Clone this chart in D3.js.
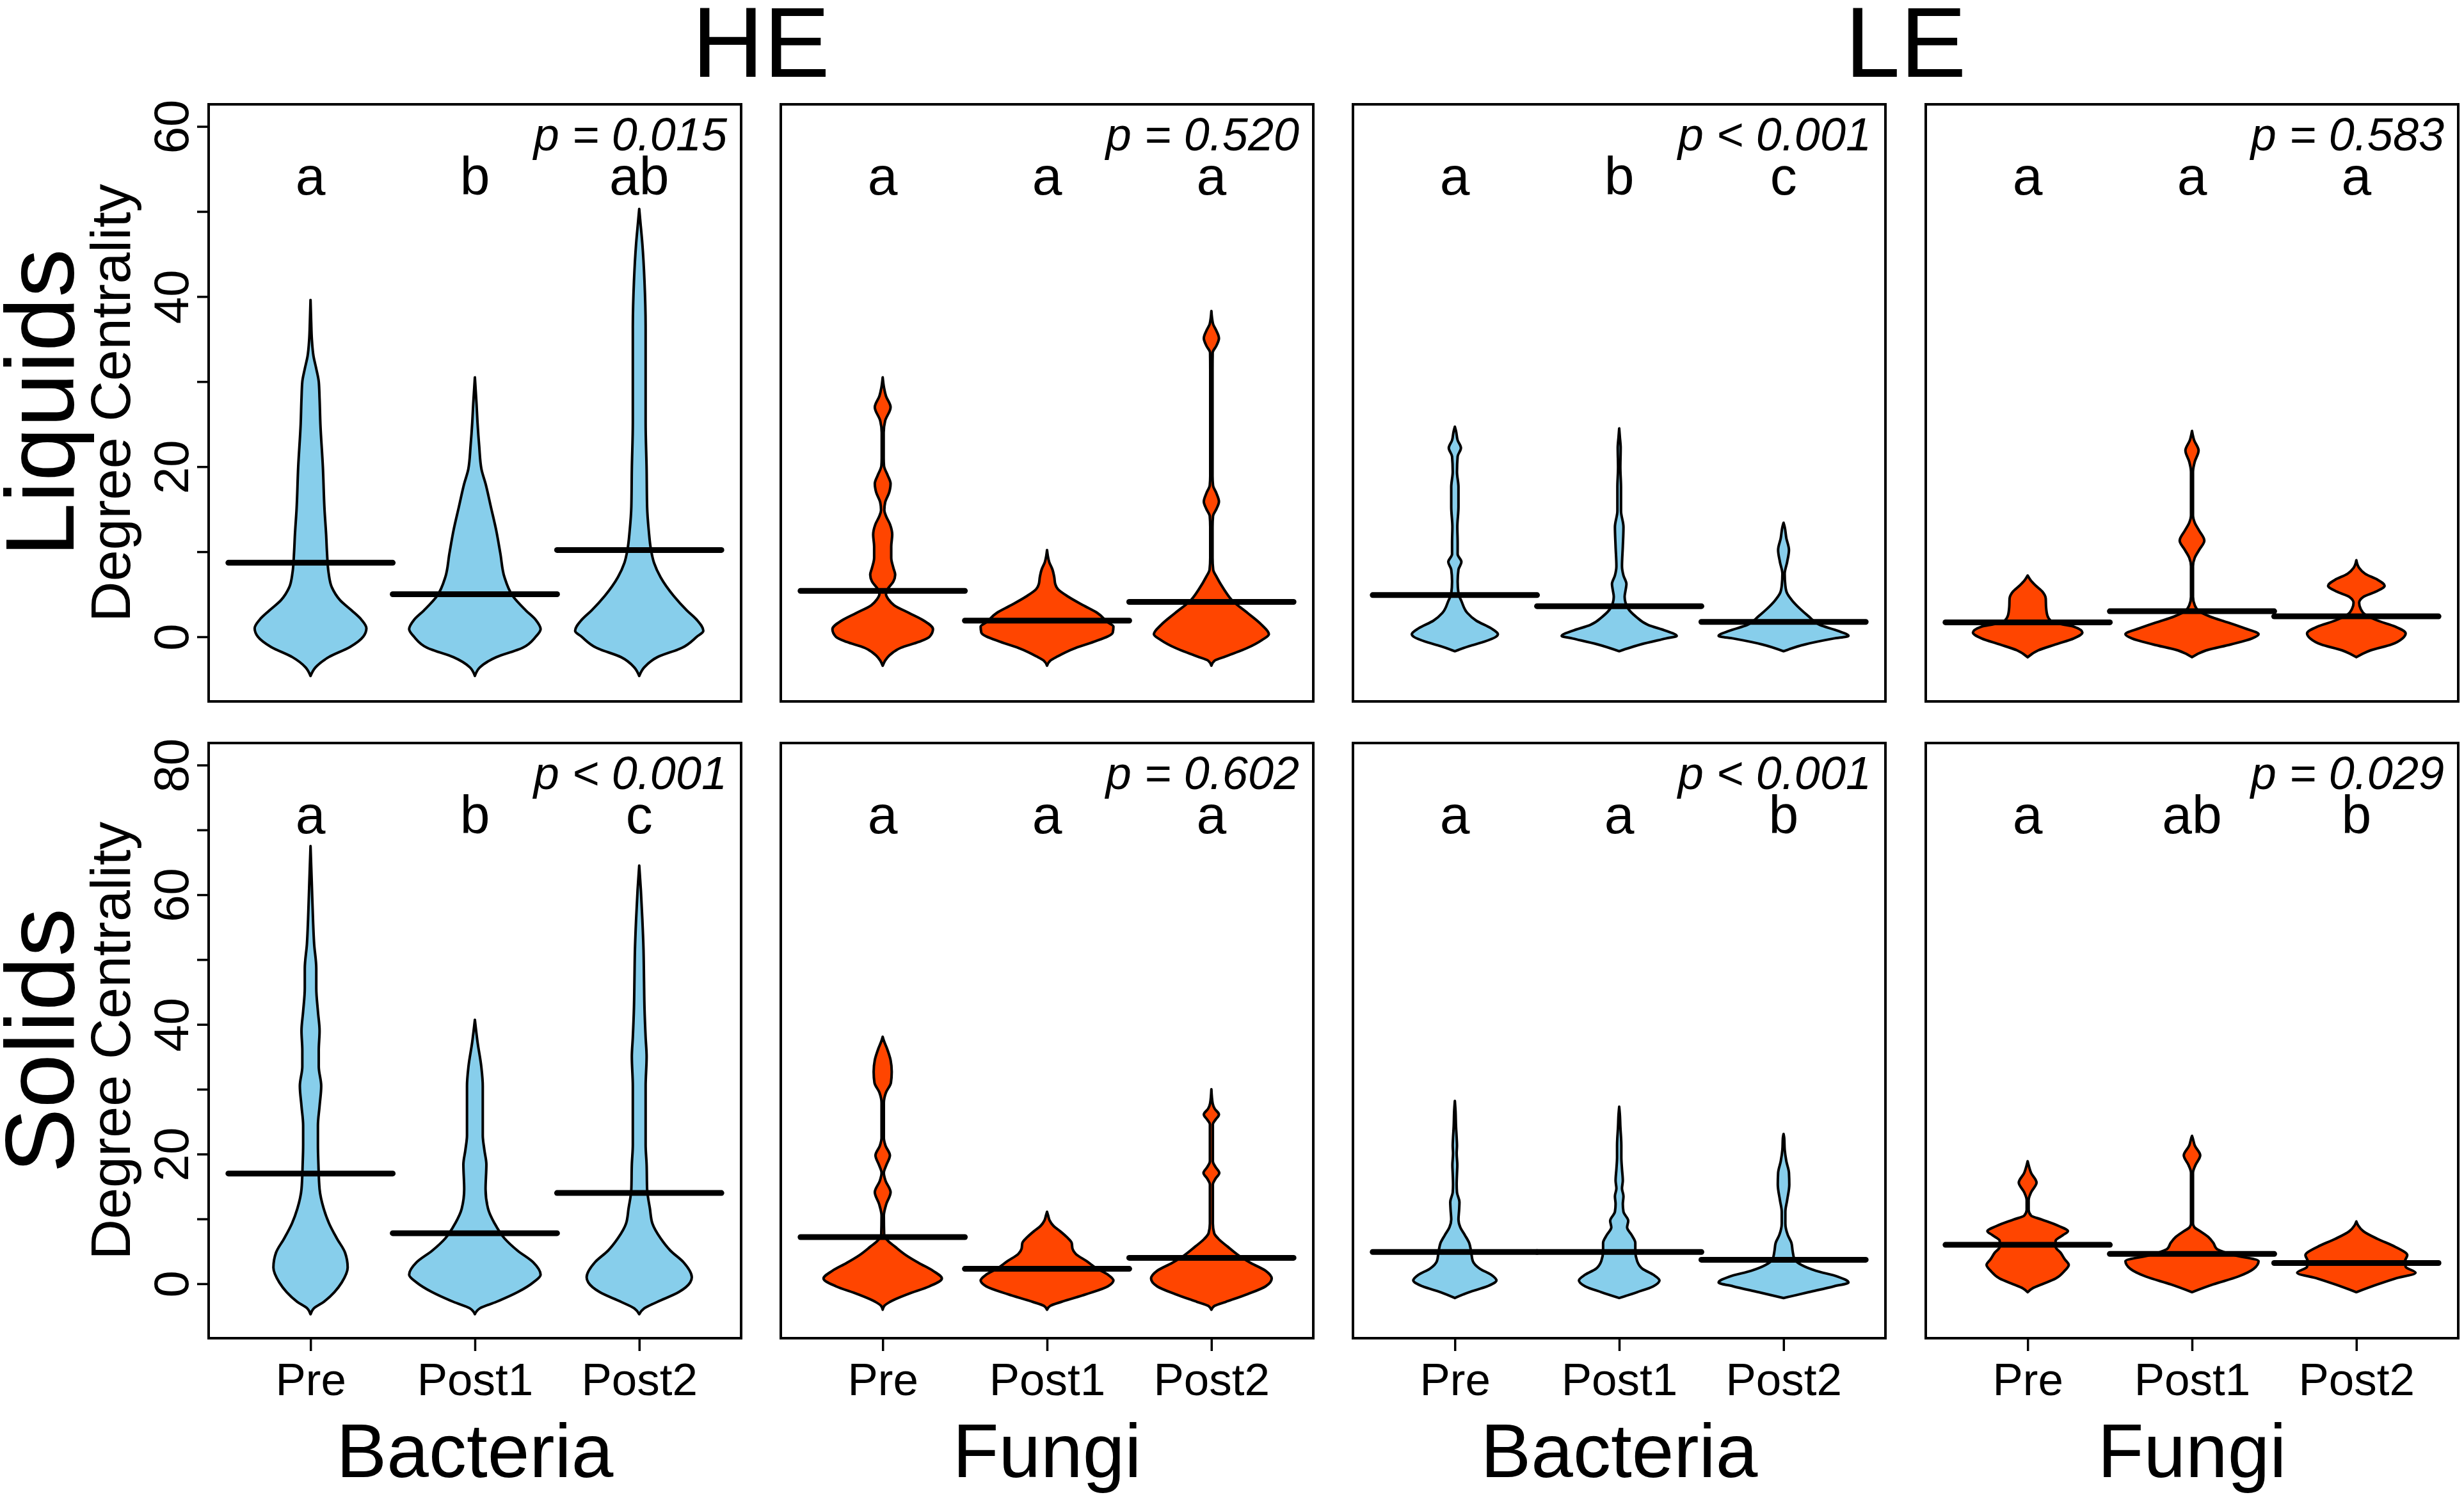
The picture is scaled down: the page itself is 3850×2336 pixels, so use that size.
<!DOCTYPE html>
<html>
<head>
<meta charset="utf-8">
<script src="https://cdn.jsdelivr.net/npm/d3@7"></script>
<style>
  html, body { margin: 0; padding: 0; background: #fff; }
  text { font-family: "Liberation Sans", Arial, sans-serif; fill: #000; }
</style>
</head>
<body>
<script>
/* -----------------    DATA     ------------------ */

const groups = ['Pre', 'Post1', 'Post2'];
const sites = ['HE', 'LE'];
const taxa = ['Bacteria', 'Fungi', 'Bacteria', 'Fungi'];
const fractions = ['Liquids', 'Solids'];

const yLimits = [[-5, 60], [-5, 80]];
// ticks every 10, labels only every 20 (the others would overlap)
const yTicks = [[0, 10, 20, 30, 40, 50, 60], [0, 10, 20, 30, 40, 50, 60, 70, 80]];
const yLabels = [[0, 20, 40, 60], [0, 20, 40, 60, 80]];

const pLiquids = ['p = 0.015', 'p = 0.520', 'p < 0.001', 'p = 0.583'];
const pSolids = ['p < 0.001', 'p = 0.602', 'p < 0.001', 'p = 0.029'];

const lettersLiquids = [['a', 'b', 'ab'], ['a', 'a', 'a'], ['a', 'b', 'c'], ['a', 'a', 'a']];
const lettersSolids = [['a', 'b', 'c'], ['a', 'a', 'a'], ['a', 'a', 'b'], ['a', 'ab', 'b']];

// horizontal bar per group (mean degree centrality)
const meanLiquids = [[8.7, 5.0, 10.2], [5.4, 1.9, 4.1], [4.9, 3.6, 1.75], [1.7, 3.0, 2.4]];
const meanSolids = [[17.0, 7.8, 14.0], [7.2, 2.3, 4.0], [4.9, 4.9, 3.7], [6.0, 4.6, 3.2]];

// violin outlines: [degree centrality, half width in group units]
const liquidsHEBacteria = [
    [[-4.6,0],[-3.6,0.03],[-2.4,0.11],[-1.2,0.24],[0,0.32],[1.0,0.34],[2.0,0.31],[3.1,0.25],[4.3,0.18],[5.8,0.13],[7.5,0.11],[10,0.1],[12,0.095],[15,0.085],[20,0.075],[25,0.06],[28,0.055],[30,0.05],[31.5,0.035],[33,0.018],[35,0.008],[37,0.004],[39.6,0]],
    [[-4.6,0],[-3.6,0.03],[-2.4,0.13],[-1.3,0.29],[0,0.37],[0.9,0.4],[2.0,0.37],[3.1,0.31],[4.8,0.23],[7.0,0.18],[9.8,0.155],[12.5,0.13],[15.3,0.097],[18,0.065],[19.7,0.04],[22.5,0.026],[25.2,0.016],[27.4,0.01],[30.5,0]],
    [[-4.6,0],[-3.6,0.03],[-2.4,0.11],[-1.3,0.26],[0,0.35],[0.7,0.39],[2.0,0.35],[3.1,0.29],[4.8,0.21],[7.0,0.13],[8.7,0.09],[10.3,0.071],[12.5,0.058],[15.3,0.048],[19.7,0.045],[25.2,0.039],[30.7,0.039],[36.3,0.039],[41.8,0.032],[46.2,0.019],[49,0.006],[50.3,0]]
];
const liquidsHEFungi = [
    [[-3.4,0],[-2.8,0.015],[-2.2,0.04],[-1.3,0.11],[-0.6,0.22],[0,0.285],[0.9,0.306],[1.9,0.25],[2.8,0.16],[3.7,0.07],[4.4,0.035],[5.0,0.02],[5.6,0.03],[6.5,0.065],[7.3,0.076],[8.1,0.065],[9.3,0.052],[10.6,0.052],[12.0,0.058],[13.2,0.045],[14.2,0.02],[14.9,0.01],[15.8,0.015],[17.0,0.04],[18.0,0.048],[19.0,0.03],[20.1,0.008],[21,0.006],[24,0.006],[25.4,0.015],[27.0,0.048],[28.3,0.02],[29.3,0.008],[30.5,0]],
    [[-3.4,0],[-2.8,0.02],[-2.3,0.065],[-1.3,0.175],[-0.6,0.284],[0.5,0.4],[1.2,0.404],[1.7,0.37],[2.8,0.306],[3.7,0.22],[4.7,0.13],[5.6,0.066],[6.2,0.05],[7.0,0.044],[7.9,0.033],[8.8,0.013],[9.5,0.005],[10.2,0]],
    [[-3.4,0],[-2.8,0.02],[-2.3,0.087],[-1.3,0.22],[-0.4,0.306],[0.3,0.35],[1.4,0.306],[2.8,0.22],[4.2,0.13],[5.6,0.076],[7.0,0.033],[7.9,0.011],[9.3,0.007],[12.9,0.007],[14.2,0.01],[15.0,0.03],[15.9,0.046],[16.9,0.03],[17.8,0.01],[18.9,0.007],[31.4,0.007],[33.4,0.008],[34.2,0.03],[35.1,0.046],[36.0,0.03],[36.8,0.01],[38.3,0]]
];
const liquidsLEBacteria = [
    [[-1.7,0],[-1.1,0.087],[-0.6,0.175],[0,0.25],[0.3,0.262],[1.0,0.22],[1.9,0.13],[2.8,0.076],[4.2,0.04],[5.1,0.022],[6.5,0.017],[7.9,0.022],[8.8,0.04],[9.7,0.017],[11.1,0.017],[12.9,0.015],[15.3,0.022],[17.6,0.022],[19.4,0.013],[21.2,0.017],[22.2,0.037],[23.1,0.017],[24.2,0.007],[24.7,0]],
    [[-1.7,0],[-0.9,0.13],[-0.2,0.284],[0.1,0.35],[0.7,0.284],[1.4,0.175],[2.4,0.1],[3.3,0.055],[4.7,0.033],[5.6,0.04],[6.2,0.044],[7.2,0.026],[8.3,0.017],[10.6,0.022],[12.9,0.026],[14.8,0.011],[17.6,0.011],[19.9,0.007],[22.2,0.009],[23.5,0.004],[24.5,0]],
    [[-1.7,0],[-0.9,0.13],[-0.2,0.306],[0.1,0.395],[0.7,0.33],[1.4,0.22],[2.4,0.153],[3.3,0.1],[4.2,0.055],[5.1,0.022],[6.0,0.011],[7.4,0.007],[8.8,0.022],[10.2,0.033],[11.6,0.017],[12.9,0.007],[13.4,0]]
];
const liquidsLEFungi = [
    [[-2.4,0],[-1.6,0.064],[-0.9,0.17],[-0.2,0.28],[0.5,0.333],[1.2,0.28],[1.5,0.2],[1.9,0.14],[2.5,0.12],[3.5,0.112],[4.5,0.11],[5.3,0.09],[6.0,0.05],[6.6,0.02],[7.2,0]],
    [[-2.4,0],[-1.6,0.086],[-0.9,0.236],[-0.2,0.365],[0.3,0.405],[1.0,0.32],[1.7,0.215],[2.4,0.107],[3.0,0.043],[3.7,0.017],[4.7,0.006],[8.3,0.006],[9.3,0.017],[10.2,0.043],[11.3,0.075],[12.5,0.043],[13.4,0.017],[14.3,0.006],[19.4,0.006],[20.6,0.017],[21.9,0.04],[23.1,0.013],[24.2,0]],
    [[-2.4,0],[-1.6,0.086],[-0.9,0.215],[-0.2,0.28],[0.4,0.3],[1.2,0.236],[1.9,0.13],[2.6,0.054],[3.3,0.026],[4.0,0.017],[4.7,0.043],[5.3,0.118],[6.0,0.172],[6.7,0.13],[7.4,0.054],[8.1,0.017],[9.0,0]]
];

const solidsHEBacteria = [
    [[-4.7,0],[-3.8,0.02],[-2.8,0.08],[-1.3,0.145],[0.2,0.19],[2.5,0.226],[4.8,0.21],[7.0,0.16],[9.3,0.113],[11.6,0.08],[14.6,0.055],[18.4,0.048],[21.4,0.045],[24.4,0.045],[27.4,0.055],[30.5,0.065],[33.5,0.05],[36,0.05],[39,0.055],[42,0.045],[45.6,0.035],[48.6,0.035],[52.4,0.022],[56.2,0.015],[61.5,0.008],[67.5,0]],
    [[-4.7,0],[-3.8,0.03],[-2.8,0.13],[-1.3,0.26],[0.2,0.355],[1.4,0.4],[3.3,0.355],[5.1,0.26],[7.0,0.18],[9.3,0.12],[11.6,0.08],[14.6,0.065],[18.4,0.07],[20.6,0.058],[22.9,0.048],[27.4,0.048],[30.5,0.048],[33.5,0.039],[37.3,0.016],[40.7,0]],
    [[-4.7,0],[-3.8,0.03],[-2.8,0.11],[-1.3,0.24],[0.2,0.31],[1.0,0.32],[3.3,0.27],[5.1,0.19],[7.0,0.13],[9.3,0.08],[11.6,0.065],[14.6,0.048],[18.4,0.045],[21.4,0.039],[25.9,0.039],[30.5,0.039],[35,0.045],[38,0.039],[42.6,0.032],[47.1,0.029],[51.6,0.026],[56.2,0.019],[60.7,0.01],[64.5,0]]
];
const solidsHEFungi = [
    [[-4.0,0],[-3.4,0.01],[-2.8,0.044],[-1.6,0.153],[-0.4,0.284],[0.8,0.36],[2.0,0.306],[3.2,0.22],[4.4,0.142],[5.7,0.076],[6.6,0.033],[7.5,0.009],[10.5,0.007],[12.3,0.022],[14.1,0.048],[15.9,0.017],[17.1,0.007],[18.3,0.022],[19.8,0.044],[21.3,0.017],[22.5,0.007],[27.9,0.007],[29.5,0.02],[31,0.05],[32.7,0.055],[34.5,0.048],[36.3,0.026],[37.5,0.007],[38.1,0]],
    [[-4.0,0],[-3.4,0.02],[-2.8,0.087],[-1.6,0.24],[-0.4,0.37],[0.5,0.404],[1.4,0.37],[2.3,0.306],[3.5,0.24],[4.6,0.175],[5.4,0.155],[6.3,0.15],[7.2,0.12],[8.1,0.08],[8.9,0.04],[9.8,0.015],[10.5,0.007],[11.1,0]],
    [[-4.0,0],[-3.4,0.02],[-2.8,0.087],[-1.6,0.22],[-0.4,0.33],[0.8,0.367],[2.0,0.33],[3.2,0.24],[4.4,0.164],[5.7,0.1],[6.9,0.044],[7.8,0.017],[9.3,0.009],[15.3,0.009],[16.2,0.025],[17.1,0.048],[18.0,0.025],[18.9,0.009],[24.6,0.009],[25.3,0.025],[26.1,0.046],[27.0,0.02],[27.8,0.008],[30.0,0]]
];
const solidsLEBacteria = [
    [[-2.2,0],[-1.3,0.087],[-0.4,0.197],[0.5,0.253],[1.4,0.22],[2.3,0.153],[3.5,0.109],[5.1,0.098],[6.3,0.087],[7.5,0.061],[8.7,0.033],[9.9,0.022],[11.4,0.026],[12.6,0.028],[14.1,0.013],[15.3,0.011],[17.0,0.013],[18.3,0.015],[20.1,0.011],[21.3,0.013],[22.5,0.011],[24.3,0.007],[26.7,0.004],[28.2,0]],
    [[-2.2,0],[-1.3,0.109],[-0.4,0.207],[0.5,0.245],[1.4,0.207],[2.3,0.142],[3.5,0.109],[5.1,0.098],[6.3,0.098],[7.5,0.076],[8.7,0.048],[9.7,0.055],[11.1,0.026],[12.3,0.022],[13.5,0.026],[14.7,0.017],[15.9,0.022],[17.7,0.017],[19.5,0.013],[21.3,0.013],[24.3,0.007],[26.1,0.004],[27.3,0]],
    [[-2.2,0],[-1.3,0.153],[-0.4,0.306],[0.2,0.395],[1.1,0.33],[2.0,0.197],[2.9,0.109],[3.8,0.066],[5.1,0.055],[6.3,0.048],[7.5,0.026],[9.3,0.011],[11.1,0.011],[12.9,0.022],[15.3,0.035],[17.1,0.033],[18.9,0.017],[20.7,0.007],[22.5,0.004],[23.1,0]]
];
const solidsLEFungi = [
    [[-1.3,0],[-0.7,0.03],[-0.1,0.086],[0.8,0.17],[2.0,0.225],[2.9,0.25],[3.8,0.225],[4.8,0.2],[5.7,0.17],[6.6,0.17],[7.5,0.215],[8.1,0.245],[8.9,0.19],[9.9,0.086],[10.5,0.021],[11.4,0.006],[12.9,0.006],[14.1,0.021],[15.6,0.054],[17.1,0.021],[18.3,0.006],[18.9,0]],
    [[-1.3,0],[-0.1,0.129],[1.1,0.28],[2.3,0.375],[3.5,0.405],[4.4,0.26],[5.4,0.15],[6.3,0.13],[7.2,0.1],[8.1,0.05],[8.7,0.015],[9.3,0.006],[17.1,0.006],[18.3,0.021],[19.8,0.05],[21.3,0.017],[22.5,0.004],[22.8,0]],
    [[-1.3,0],[-0.1,0.129],[0.8,0.236],[1.7,0.36],[2.6,0.3],[3.5,0.296],[4.4,0.31],[5.7,0.236],[6.9,0.13],[8.1,0.043],[9.0,0.011],[9.6,0]]
];

/* -----------------    SETTINGS     ------------------ */

const settings = {
    width: 3850,
    height: 2336,
    panelLeft: [326, 1220, 2114, 3009],
    panelWidth: 832,
    rowTop: [163, 1161],
    rowHeight: [933, 930],
    colBacteria: '#87CEEB',
    colFungi: '#FF4500'
};

const profiles = [
    [liquidsHEBacteria, liquidsHEFungi, liquidsLEBacteria, liquidsLEFungi],
    [solidsHEBacteria, solidsHEFungi, solidsLEBacteria, solidsLEFungi]
];
const means = [meanLiquids, meanSolids];
const letters = [lettersLiquids, lettersSolids];
const pValues = [pLiquids, pSolids];
const fills = taxa.map(t => t === 'Bacteria' ? settings.colBacteria : settings.colFungi);

/* -----------------    DRAW     ------------------ */

const svg = d3.select('body')
    .append('svg')
    .attr('width', settings.width)
    .attr('height', settings.height);

svg.append('rect')
    .attr('width', settings.width)
    .attr('height', settings.height)
    .attr('fill', '#fff');

fractions.forEach((fraction, r) => {
    const top = settings.rowTop[r];
    const h = settings.rowHeight[r];
    const [lo, hi] = yLimits[r];
    const pad = (hi - lo) * 0.04;
    const y = d3.scaleLinear().domain([lo - pad, hi + pad]).range([top + h, top]);

    taxa.forEach((taxon, c) => {
        const left = settings.panelLeft[c];
        const x = d3.scaleLinear().domain([0.38, 3.62]).range([left, left + settings.panelWidth]);
        const g = svg.append('g');

        // violins
        profiles[r][c].forEach((prof, i) => {
            const centre = i + 1;
            const area = d3.area()
                .curve(d3.curveMonotoneY)
                .y(d => y(d[0]))
                .x0(d => x(centre - d[1]))
                .x1(d => x(centre + d[1]));
            g.append('path')
                .datum(prof)
                .attr('d', area)
                .attr('fill', fills[c])
                .attr('stroke', '#000')
                .attr('stroke-width', 4)
                .attr('stroke-linejoin', 'round');
        });

        // mean bars
        g.selectAll('line.mean')
            .data(means[r][c])
            .join('line')
            .attr('class', 'mean')
            .attr('x1', (d, i) => x(i + 0.5))
            .attr('x2', (d, i) => x(i + 1.5))
            .attr('y1', d => y(d))
            .attr('y2', d => y(d))
            .attr('stroke', '#000')
            .attr('stroke-width', 9)
            .attr('stroke-linecap', 'round');

        // frame
        g.append('rect')
            .attr('x', left)
            .attr('y', top)
            .attr('width', settings.panelWidth)
            .attr('height', h)
            .attr('fill', 'none')
            .attr('stroke', '#000')
            .attr('stroke-width', 4);

        // group letters
        g.selectAll('text.letter')
            .data(letters[r][c])
            .join('text')
            .attr('class', 'letter')
            .attr('x', (d, i) => x(i + 1))
            .attr('y', top + 141)
            .attr('text-anchor', 'middle')
            .attr('font-size', '84px')
            .text(d => d);

        // p value
        g.append('text')
            .attr('x', left + settings.panelWidth - 22)
            .attr('y', top + 72)
            .attr('text-anchor', 'end')
            .attr('font-size', '72px')
            .attr('font-style', 'italic')
            .text(pValues[r][c]);

        // y axis on first column
        if (c === 0) {
            const yAxis = d3.axisLeft(y)
                .tickValues(yTicks[r])
                .tickSize(18)
                .tickFormat(d => yLabels[r].includes(d) ? d : '');
            const ga = svg.append('g')
                .attr('transform', `translate(${left},0)`)
                .call(yAxis);
            ga.select('.domain').remove();
            ga.selectAll('line').attr('stroke', '#000').attr('stroke-width', 3.5);
            ga.selectAll('text')
                .attr('transform', 'rotate(-90)')
                .attr('x', 0)
                .attr('y', -32)
                .attr('dy', 0)
                .attr('text-anchor', 'middle')
                .attr('font-size', '76px')
                .attr('font-family', '"Liberation Sans", Arial, sans-serif')
                .attr('fill', '#000');
        }

        // x axis on bottom row
        if (r === fractions.length - 1) {
            const xAxis = d3.axisBottom(x).tickValues([1, 2, 3]).tickSize(20).tickFormat(d => groups[d - 1]);
            const gx = svg.append('g')
                .attr('transform', `translate(0,${top + h})`)
                .call(xAxis);
            gx.select('.domain').remove();
            gx.selectAll('line').attr('stroke', '#000').attr('stroke-width', 3.5);
            gx.selectAll('text')
                .attr('y', 89)
                .attr('dy', 0)
                .attr('font-size', '71px')
                .attr('font-family', '"Liberation Sans", Arial, sans-serif')
                .attr('fill', '#000');

            svg.append('text')
                .attr('x', x(2))
                .attr('y', 2308)
                .attr('text-anchor', 'middle')
                .attr('font-size', '118px')
                .text(taxon);
        }
    });

    // row label and y title
    const midY = top + h / 2;
    svg.append('text')
        .attr('transform', `translate(115,${midY}) rotate(-90)`)
        .attr('text-anchor', 'middle')
        .attr('font-size', '152px')
        .text(fraction);
    svg.append('text')
        .attr('transform', `translate(203,${midY}) rotate(-90)`)
        .attr('text-anchor', 'middle')
        .attr('font-size', '88px')
        .text('Degree Centrality');
});

// site headers over each pair of columns
sites.forEach((site, s) => {
    const l = settings.panelLeft[s * 2];
    const rgt = settings.panelLeft[s * 2 + 1] + settings.panelWidth;
    svg.append('text')
        .attr('x', (l + rgt) / 2)
        .attr('y', 120)
        .attr('text-anchor', 'middle')
        .attr('font-size', '155px')
        .text(site);
});
</script>
</body>
</html>
